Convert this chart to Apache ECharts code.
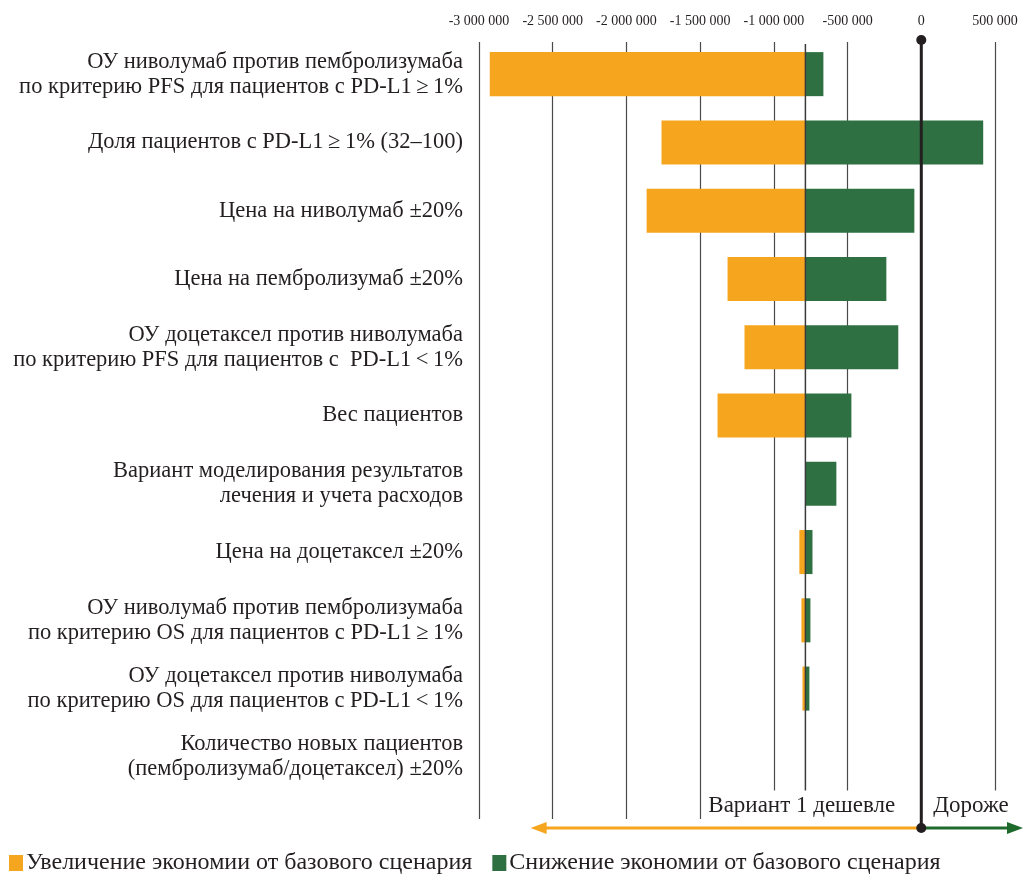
<!DOCTYPE html>
<html>
<head>
<meta charset="utf-8">
<script src="https://cdn.jsdelivr.net/npm/echarts@6/dist/echarts.min.js"></script>
<style>
html, body { margin: 0; padding: 0; background: #fff; }
#main { width: 1024px; height: 879px; }
</style>
</head>
<body>
<div id="main"></div>
<script>
// параметры анализа чувствительности
var categories = [
    'ОУ ниволумаб против пембролизумаба\nпо критерию PFS для пациентов с PD-L1\u2009≥\u20091%',
    'Доля пациентов с PD-L1\u2009≥\u20091% (32–100)',
    'Цена на ниволумаб ±20%',
    'Цена на пембролизумаб ±20%',
    'ОУ доцетаксел против ниволумаба\nпо критерию PFS для пациентов с  PD-L1\u2009<\u20091%',
    'Вес пациентов',
    'Вариант моделирования результатов\nлечения и учета расходов',
    'Цена на доцетаксел ±20%',
    'ОУ ниволумаб против пембролизумаба\nпо критерию OS для пациентов с PD-L1\u2009≥\u20091%',
    'ОУ доцетаксел против ниволумаба\nпо критерию OS для пациентов с PD-L1\u2009<\u20091%',
    'Количество новых пациентов\n(пембролизумаб/доцетаксел) ±20%'
];
var baseValue = -786000;
// увеличение экономии (левый край)
var lowValues = [-2927000, -1762000, -1863000, -1314000, -1199000, -1382000, null, -827000, -813000, -806000, null];
// снижение экономии (правый край)
var highValues = [-664000, 420000, -47000, -237000, -156000, -474000, -576000, -738000, -752000, -759000, null];

var axisMin = -3000000, axisMax = 500000, axisStep = 500000;
var legendNames = ['Увеличение экономии от базового сценария', 'Снижение экономии от базового сценария'];
var orange = '#f6a51e', green = '#2e7042';
var serif = '"Liberation Serif", "DejaVu Serif", serif';

var dom = document.getElementById('main');
var myChart = echarts.init(dom);

var orangeData = [], greenData = [];
for (var i = 0; i < categories.length; i++) {
    if (lowValues[i] != null) orangeData.push([lowValues[i], baseValue, i]);
    if (highValues[i] != null) greenData.push([baseValue, highValues[i], i]);
}

function renderRange(params, api) {
    var a = api.coord([api.value(0), api.value(2)]);
    var b = api.coord([api.value(1), api.value(2)]);
    var h = api.size([0, 1])[1] * 0.645;
    return {
        type: 'rect',
        shape: { x: a[0], y: a[1] - h / 2, width: b[0] - a[0], height: h },
        style: api.style()
    };
}

function fmt(v) {
    var s = String(Math.abs(v)).replace(/\B(?=(\d{3})+(?!\d))/g, ' ');
    return (v < 0 ? '-' : '') + s;
}

var option = {
    animation: false,
    grid: [
        { left: 479, right: 29, top: 40, height: 751 },   // столбцы
        { left: 479, right: 29, top: 42, height: 777 }    // сетка
    ],
    xAxis: [
        {
            type: 'value', gridIndex: 0, min: axisMin, max: axisMax, interval: axisStep,
            show: false, splitLine: { show: false }
        },
        {
            type: 'value', gridIndex: 1, min: axisMin, max: axisMax, interval: axisStep,
            position: 'top',
            axisLine: { show: false },
            axisTick: { show: false },
            axisLabel: { formatter: fmt, fontFamily: serif, fontSize: 14, color: '#231f20', margin: 14 },
            splitLine: { lineStyle: { color: '#4a4a4a', width: 1.2 } }
        }
    ],
    yAxis: [
        {
            type: 'category', gridIndex: 0, data: categories, inverse: true,
            axisLine: { show: false },
            axisTick: { show: false },
            axisLabel: {
                fontFamily: serif, fontSize: 22.5, lineHeight: 25, color: '#231f20',
                margin: 16, align: 'right'
            }
        },
        { type: 'category', gridIndex: 1, show: false, data: [''] }
    ],
    legend: {
        left: 4, top: 846,
        itemWidth: 14, itemHeight: 16, itemGap: 20,
        icon: 'rect',
        textStyle: { fontFamily: serif, fontSize: 24, color: '#231f20', padding: [0, 0, 0, -2] },
        data: legendNames
    },
    series: [
        {
            name: legendNames[0], type: 'custom', xAxisIndex: 0, yAxisIndex: 0,
            renderItem: renderRange, encode: { x: [0, 1], y: 2 },
            itemStyle: { color: orange }, data: orangeData, z: 2
        },
        {
            name: legendNames[1], type: 'custom', xAxisIndex: 0, yAxisIndex: 0,
            renderItem: renderRange, encode: { x: [0, 1], y: 2 },
            itemStyle: { color: green }, data: greenData, z: 2
        }
    ]
};

myChart.setOption(option);

// подписи и стрелки внизу
var x0 = myChart.convertToPixel({ xAxisIndex: 1 }, 0);
var xb = myChart.convertToPixel({ xAxisIndex: 1 }, baseValue);
var xl = myChart.convertToPixel({ xAxisIndex: 1 }, -2650000);
var yArrow = 828;
myChart.setOption({
    graphic: [
        { type: 'line', z: 50, shape: { x1: xb, y1: 44, x2: xb, y2: 794 }, style: { stroke: '#3a3a3a', lineWidth: 1.5 } },
        {
            type: 'text', z: 60, style: {
                text: 'Вариант 1 дешевле', x: x0 - 20, y: 806, align: 'right', verticalAlign: 'middle',
                font: '23px ' + serif, fill: '#231f20', backgroundColor: '#fff', padding: [0, 6, 8, 6]
            }
        },
        {
            type: 'text', z: 60, style: {
                text: 'Дороже', x: x0 + 10, y: 806, align: 'left', verticalAlign: 'middle',
                font: '23px ' + serif, fill: '#231f20', backgroundColor: '#fff', padding: [0, 6, 8, 2]
            }
        },
        { type: 'line', z: 55, shape: { x1: x0, y1: yArrow, x2: xl + 12, y2: yArrow }, style: { stroke: orange, lineWidth: 3 } },
        { type: 'polygon', z: 55, shape: { points: [[xl, yArrow], [xl + 16, yArrow - 6], [xl + 16, yArrow + 6]] }, style: { fill: orange } },
        { type: 'line', z: 55, shape: { x1: x0, y1: yArrow, x2: 1010, y2: yArrow }, style: { stroke: '#1d6a2c', lineWidth: 3 } },
        { type: 'polygon', z: 55, shape: { points: [[1023, yArrow], [1007, yArrow - 6], [1007, yArrow + 6]] }, style: { fill: '#1d6a2c' } },
        { type: 'line', z: 70, shape: { x1: x0, y1: 40, x2: x0, y2: yArrow }, style: { stroke: '#231f20', lineWidth: 3 } },
        { type: 'circle', z: 71, shape: { cx: x0, cy: 40, r: 5 }, style: { fill: '#231f20' } },
        { type: 'circle', z: 71, shape: { cx: x0, cy: yArrow, r: 5 }, style: { fill: '#231f20' } }
    ]
});
</script>
</body>
</html>
